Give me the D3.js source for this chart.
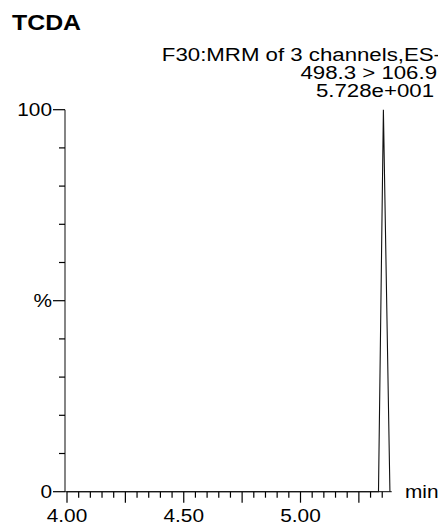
<!DOCTYPE html>
<html>
<head>
<meta charset="utf-8">
<script src="https://cdn.jsdelivr.net/npm/d3@7"></script>
<style>
  html, body { margin: 0; padding: 0; background: #fff; }
  svg { display: block; font-family: "Liberation Sans", Arial, Helvetica, sans-serif; }
</style>
</head>
<body>
<svg id="chart" width="438" height="525"></svg>
<script>
// ---- data ----
const title = "TCDA";
const headerLines = ["F30:MRM of 3 channels,ES-", "498.3 > 106.9", "5.728e+001"];
const times = [4.00, 5.334, 5.355, 5.383];       // retention time (min)
const intensity = [0, 0, 100, 0];                  // relative intensity (%)
const xMajorTicks = [4.00, 4.25, 4.50, 4.75, 5.00, 5.25];
const xLabelTicks = [4.00, 4.50, 5.00];
const xLabels = ["4.00", "4.50", "5.00"];
const yLabelTicks = [0, 50, 100];
const yLabels = ["0", "%", "100"];
const xUnit = "min";

// ---- layout ----
const svg = d3.select("#chart");
const x = d3.scaleLinear().domain([4.00, 5.00]).range([67, 300.5]);
const y = d3.scaleLinear().domain([0, 100]).range([491.7, 109.7]);
const axisX0 = 65, axisXEnd = 391.7;
const xMinorTicks = d3.range(4.00, 5.36, 0.05).map(v => +v.toFixed(2));
const yMinorTicks = d3.range(0, 101, 10);
const SX = 1.15;  // horizontal stretch of the original's lettering

function stretchedText(px, py, str, opts) {
  const g = svg.append("g").attr("transform", `translate(${px},${py}) scale(${opts.sx || SX},1)`);
  const t = g.append("text").attr("x", 0).attr("y", 0)
    .attr("font-size", opts.size || 18.6).attr("fill", "#000")
    .attr("text-anchor", opts.anchor || "start").text(str);
  if (opts.bold) t.attr("font-weight", "bold");
  if (opts.dy) t.attr("dy", opts.dy);
  return t;
}

stretchedText(12, 30, title, { size: 22, bold: true, sx: 1.13 });

const headerEnds = [441, 437, 434];
const headerBase = [61, 79, 97];
headerLines.forEach((t, i) => {
  stretchedText(headerEnds[i], headerBase[i], t, { anchor: "end", size: 17.5, sx: 1.27 });
});

// y axis line
svg.append("line").attr("x1", axisX0).attr("x2", axisX0)
  .attr("y1", y(100)).attr("y2", y(0)).attr("stroke", "#333").attr("stroke-width", 1.2);
// x axis line
svg.append("line").attr("x1", axisX0).attr("x2", axisXEnd)
  .attr("y1", y(0)).attr("y2", y(0)).attr("stroke", "#333").attr("stroke-width", 1.2);

// y ticks
svg.selectAll(".ytick").data(yMinorTicks).enter().append("line")
  .attr("x1", d => yLabelTicks.includes(d) ? axisX0 - 12 : axisX0 - 6)
  .attr("x2", axisX0).attr("y1", d => y(d)).attr("y2", d => y(d))
  .attr("stroke", "#000").attr("stroke-width", 1.2);
yLabelTicks.forEach((d, i) => {
  stretchedText(axisX0 - 13, y(d), yLabels[i], { anchor: "end", dy: "0.36em", sx: 1.12 });
});

// x ticks
svg.selectAll(".xtick").data(xMinorTicks).enter().append("line")
  .attr("x1", d => x(d)).attr("x2", d => x(d))
  .attr("y1", y(0)).attr("y2", d => xMajorTicks.some(m => Math.abs(m - d) < 1e-6) ? y(0) + 11 : y(0) + 6)
  .attr("stroke", "#000").attr("stroke-width", 1.2);
xLabelTicks.forEach((d, i) => {
  stretchedText(x(d), 522, xLabels[i], { anchor: "middle", sx: 1.12 });
});
stretchedText(405, y(0), xUnit, { dy: "0.36em", sx: 1.12 });

// trace
const pts = times.map((t, i) => [t, intensity[i]]);
svg.append("path").datum(pts)
  .attr("d", d3.line().x(d => x(d[0])).y(d => y(d[1])))
  .attr("fill", "none").attr("stroke", "#111").attr("stroke-width", 1.1);
</script>
</body>
</html>
